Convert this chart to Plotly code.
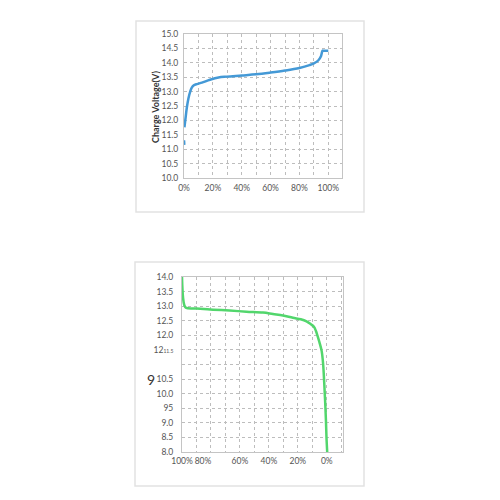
import plotly.graph_objects as go

LABEL_FONT = dict(family="Lato, Open Sans, sans-serif", size=8.5, color="#555555")
GRID_COLOR = "#bdbdbd"
BOX_COLOR = "#c4c4c4"
FRAME_COLOR = "#e2e2e2"
CHARGE_COLOR = "#4499d6"
DISCHARGE_COLOR = "#52d66c"

# charge curve (top): state of charge %, voltage V
charge_soc_blip = [0.0, 0.2]
charge_v_blip = [11.31, 11.15]
charge_soc = [0.3, 1.2, 1.9, 3.1, 4.3, 5.4, 6.6, 8.9, 12.4, 18, 23.9, 29.7, 40, 50, 60,
              70, 80, 87, 90, 93, 95, 96, 96.6, 100]
charge_v = [11.76, 12.13, 12.42, 12.77, 13.0, 13.14, 13.21, 13.26, 13.31, 13.41, 13.49,
            13.52, 13.56, 13.6, 13.66, 13.73, 13.82, 13.92, 13.98, 14.08, 14.24, 14.42,
            14.42, 14.42]
charge_xticks = [0, 10, 20, 30, 40, 50, 60, 70, 80, 90, 100]
charge_xtext = ["0%", "", "20%", "", "40%", "", "60%", "", "80%", "", "100%"]
charge_yticks = [10.0, 10.5, 11.0, 11.5, 12.0, 12.5, 13.0, 13.5, 14.0, 14.5, 15.0]

# discharge curve (bottom): remaining capacity %, voltage V
dis_soc = [100, 99.3, 98.4, 97.1, 90, 78.5, 67, 55.5, 44, 37.2, 30.3, 23.4, 18, 14,
           11, 9, 7.5, 6.5, 5, 3.5, 2.5, 1.8, 1.2, 0.6, 0.2, -0.3]
dis_v = [14.0, 13.31, 13.03, 12.94, 12.92, 12.88, 12.85, 12.81, 12.78, 12.73, 12.68,
         12.6, 12.55, 12.48, 12.38, 12.3, 12.15, 12.0, 11.75, 11.45, 11.0, 10.4, 9.8,
         9.1, 8.5, 8.0]
dis_xlabel_pos = [100, 85.5, 60, 40, 20, 0]
dis_xlabel_text = ["100%", "80%", "60%", "40%", "20%", "0%"]
dis_yticks = [8.0, 8.5, 9.0, 9.5, 10.0, 10.5, 11.0, 11.5, 12.0, 12.5, 13.0, 13.5, 14.0]
dis_ytext = ["8.0", "8.5", "9.0", "95", "10.0", "10.5", "",
             "12<span style='font-size:5px'>11.5</span>", "12.0", "12.5", "13.0", "13.5", "14.0"]

W = H = 500


def px(x):
    return x / W


def py(y):
    return 1 - y / H


fig = go.Figure()

fig.add_trace(go.Scatter(x=charge_soc_blip, y=charge_v_blip, mode="lines",
                         line=dict(color=CHARGE_COLOR, width=2.5), xaxis="x", yaxis="y"))
fig.add_trace(go.Scatter(x=charge_soc, y=charge_v, mode="lines", line_shape="spline",
                         line=dict(color=CHARGE_COLOR, width=2.5), xaxis="x", yaxis="y"))
fig.add_trace(go.Scatter(x=dis_soc, y=dis_v, mode="lines", line_shape="spline",
                         line=dict(color=DISCHARGE_COLOR, width=2.5), xaxis="x2", yaxis="y2"))
# empty trace so the label axis of the lower chart is drawn
fig.add_trace(go.Scatter(x=[], y=[], xaxis="x3", yaxis="y2", hoverinfo="skip"))

axis_common = dict(showline=True, mirror=True, linecolor=BOX_COLOR, linewidth=1,
                   gridcolor=GRID_COLOR, griddash="3px,3px", gridwidth=1,
                   zeroline=False, ticks="", tickfont=LABEL_FONT, fixedrange=True,
                   automargin=False, tickangle=0)

fig.update_layout(
    width=W, height=H,
    margin=dict(l=0, r=0, t=0, b=0),
    paper_bgcolor="white", plot_bgcolor="white",
    showlegend=False,
    xaxis=dict(axis_common, domain=[px(184), px(342)], anchor="y", range=[0, 109.5],
               tickvals=charge_xticks, ticktext=charge_xtext, ticklabelstandoff=2),
    yaxis=dict(axis_common, domain=[py(178), py(34)], anchor="x", range=[10, 15],
               tickvals=charge_yticks, tickformat=".1f", ticklabelstandoff=3),
    xaxis2=dict(axis_common, domain=[px(182), px(343)], anchor="y2", range=[100, -11.2],
                tick0=0, dtick=10, showticklabels=False),
    xaxis3=dict(overlaying="x2", anchor="y2", range=[100, -11.2], showgrid=False,
                showline=False, zeroline=False, ticks="", tickfont=LABEL_FONT,
                tickvals=dis_xlabel_pos, ticktext=dis_xlabel_text, side="bottom",
                ticklabelstandoff=2, fixedrange=True, automargin=False, tickangle=0),
    yaxis2=dict(axis_common, domain=[py(452), py(277)], anchor="x2", range=[8, 14],
                tickvals=dis_yticks, ticktext=dis_ytext, ticklabelstandoff=6),
)

fig.add_annotation(text="<b>Charge Voltage(V)</b>", xref="paper", yref="paper",
                   x=px(156), y=py(107), textangle=-90, showarrow=False,
                   xanchor="center", yanchor="middle",
                   font=dict(family="Lato, Open Sans, sans-serif", size=9, color="#333333"))
fig.add_annotation(text="9", xref="paper", yref="paper", x=px(151), y=py(379),
                   showarrow=False, xanchor="center", yanchor="middle",
                   font=dict(family="Lato, Open Sans, sans-serif", size=14, color="#333333"))

# panel frames
for x0, y0, x1, y1 in [(136, 21, 364, 212), (135, 262, 364, 486)]:
    fig.add_shape(type="rect", xref="paper", yref="paper",
                  x0=px(x0), x1=px(x1), y0=py(y1), y1=py(y0),
                  line=dict(color=FRAME_COLOR, width=1.5), layer="below")

fig.write_html("out.html", config={"displayModeBar": False},
               post_script="document.body.style.margin='0';")
